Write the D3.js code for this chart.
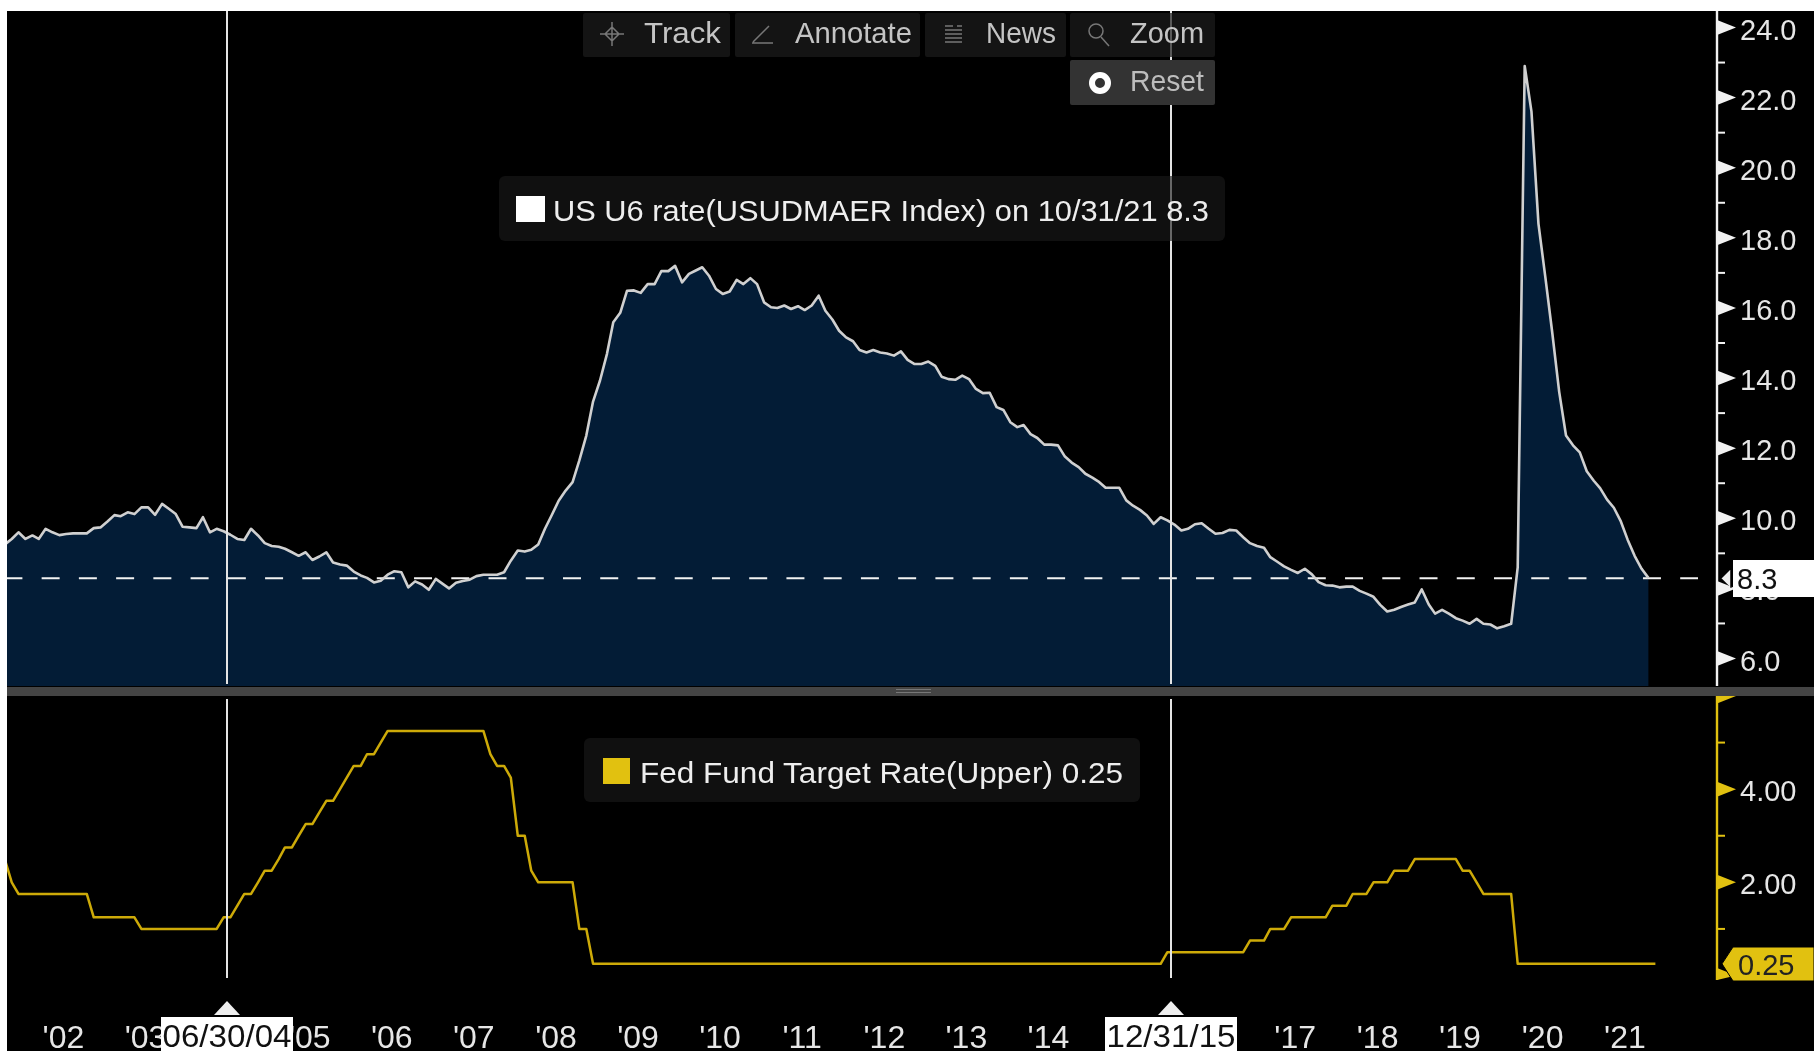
<!DOCTYPE html>
<html>
<head>
<meta charset="utf-8">
<script src="https://cdn.jsdelivr.net/npm/d3@7"></script>
<style>
  html, body { margin: 0; padding: 0; background: #fff; overflow: hidden; }
  svg { display: block; filter: blur(0.45px); }
  text { font-family: "Liberation Sans", sans-serif; }
</style>
</head>
<body>
<div id="chart"></div>
<script>
// monthly values, first point is Oct 2001
var u6Values = [
  9.25, 9.41, 9.60,
  9.41, 9.51, 9.41, 9.70, 9.60, 9.52, 9.55, 9.57, 9.57, 9.57, 9.72, 9.74,
  9.91, 10.09, 10.06, 10.17, 10.12, 10.31, 10.31, 10.10, 10.41, 10.27, 10.12, 9.76,
  9.74, 9.72, 10.03, 9.60, 9.70, 9.63, 9.53, 9.41, 9.38, 9.70, 9.51, 9.29,
  9.21, 9.19, 9.13, 9.03, 8.93, 9.03, 8.81, 8.91, 9.03, 8.74, 8.68, 8.65,
  8.48, 8.37, 8.30, 8.17, 8.22, 8.39, 8.49, 8.46, 8.03, 8.20, 8.11, 7.96,
  8.27, 8.13, 8.00, 8.16, 8.21, 8.25, 8.35, 8.39, 8.39, 8.39, 8.46, 8.79,
  9.08, 9.05, 9.10, 9.25, 9.70, 10.10, 10.50, 10.79, 11.03, 11.65, 12.36, 13.33,
  13.93, 14.69, 15.59, 15.86, 16.49, 16.50, 16.43, 16.68, 16.68, 17.05, 17.05, 17.20,
  16.73, 16.97, 17.06, 17.16, 16.92, 16.54, 16.40, 16.47, 16.80, 16.68, 16.85, 16.68,
  16.16, 16.02, 16.00, 16.07, 15.97, 16.05, 15.94, 16.07, 16.35, 15.92, 15.67, 15.35,
  15.16, 15.05, 14.80, 14.73, 14.80, 14.73, 14.70, 14.64, 14.76, 14.52, 14.40, 14.40,
  14.47, 14.35, 14.04, 13.97, 13.95, 14.07, 13.97, 13.69, 13.57, 13.58, 13.17, 13.09,
  12.74, 12.60, 12.66, 12.40, 12.29, 12.10, 12.10, 12.08, 11.76, 11.59, 11.46, 11.27,
  11.16, 11.03, 10.87, 10.87, 10.87, 10.51, 10.36, 10.24, 10.08, 9.84, 10.03, 9.94,
  9.82, 9.65, 9.70, 9.83, 9.86, 9.70, 9.56, 9.58, 9.67, 9.65, 9.46, 9.29,
  9.21, 9.16, 8.89, 8.76, 8.63, 8.53, 8.44, 8.56, 8.40, 8.18, 8.09, 8.08,
  8.03, 8.05, 8.05, 7.93, 7.85, 7.76, 7.53, 7.34, 7.39, 7.47, 7.54, 7.60,
  7.97, 7.54, 7.28, 7.39, 7.28, 7.15, 7.08, 6.99, 7.13, 6.99, 6.97, 6.86,
  6.92, 6.99, 8.60, 22.90, 21.60, 18.40, 16.90, 15.30, 13.60, 12.36, 12.08, 11.88,
  11.34, 11.07, 10.86, 10.53, 10.30, 9.91, 9.39, 8.93, 8.56, 8.30
];

var fedValues = [
  2.5, 2, 1.75,
  1.75, 1.75, 1.75, 1.75, 1.75, 1.75, 1.75, 1.75, 1.75, 1.75, 1.25, 1.25,
  1.25, 1.25, 1.25, 1.25, 1.25, 1, 1, 1, 1, 1, 1, 1,
  1, 1, 1, 1, 1, 1.25, 1.25, 1.5, 1.75, 1.75, 2, 2.25,
  2.25, 2.5, 2.75, 2.75, 3, 3.25, 3.25, 3.5, 3.75, 3.75, 4, 4.25,
  4.5, 4.5, 4.75, 4.75, 5, 5.25, 5.25, 5.25, 5.25, 5.25, 5.25, 5.25,
  5.25, 5.25, 5.25, 5.25, 5.25, 5.25, 5.25, 5.25, 4.75, 4.5, 4.5, 4.25,
  3, 3, 2.25, 2, 2, 2, 2, 2, 2, 1, 1, 0.25,
  0.25, 0.25, 0.25, 0.25, 0.25, 0.25, 0.25, 0.25, 0.25, 0.25, 0.25, 0.25,
  0.25, 0.25, 0.25, 0.25, 0.25, 0.25, 0.25, 0.25, 0.25, 0.25, 0.25, 0.25,
  0.25, 0.25, 0.25, 0.25, 0.25, 0.25, 0.25, 0.25, 0.25, 0.25, 0.25, 0.25,
  0.25, 0.25, 0.25, 0.25, 0.25, 0.25, 0.25, 0.25, 0.25, 0.25, 0.25, 0.25,
  0.25, 0.25, 0.25, 0.25, 0.25, 0.25, 0.25, 0.25, 0.25, 0.25, 0.25, 0.25,
  0.25, 0.25, 0.25, 0.25, 0.25, 0.25, 0.25, 0.25, 0.25, 0.25, 0.25, 0.25,
  0.25, 0.25, 0.25, 0.25, 0.25, 0.25, 0.25, 0.25, 0.25, 0.25, 0.25, 0.5,
  0.5, 0.5, 0.5, 0.5, 0.5, 0.5, 0.5, 0.5, 0.5, 0.5, 0.5, 0.75,
  0.75, 0.75, 1, 1, 1, 1.25, 1.25, 1.25, 1.25, 1.25, 1.25, 1.5,
  1.5, 1.5, 1.75, 1.75, 1.75, 2, 2, 2, 2.25, 2.25, 2.25, 2.5,
  2.5, 2.5, 2.5, 2.5, 2.5, 2.5, 2.25, 2.25, 2, 1.75, 1.75, 1.75,
  1.75, 1.75, 0.25, 0.25, 0.25, 0.25, 0.25, 0.25, 0.25, 0.25, 0.25, 0.25,
  0.25, 0.25, 0.25, 0.25, 0.25, 0.25, 0.25, 0.25, 0.25, 0.25, 0.25
];

var years = [2002, 2003, 2004, 2005, 2006, 2007, 2008, 2009, 2010, 2011, 2012, 2013, 2014, 2015, 2016, 2017, 2018, 2019, 2020, 2021];
var u6Major = [6, 8, 10, 12, 14, 16, 18, 20, 22, 24];
var u6Minor = [7, 9, 11, 13, 15, 17, 19, 21, 23];
var fedMajor = [0, 2, 4, 6];
var fedLabelled = [2, 4];
var fedMinor = [1, 3, 5];
var cursorDates = [new Date(2004, 5, 30), new Date(2015, 11, 31)];
var cursorLabels = ["06/30/04", "12/31/15"];
var lastDate = new Date(2021, 9, 31);
var u6Last = 8.3;
var fedLast = 0.25;

// mid month so the points sit between the month end cursors
function monthDate(d, i) { return new Date(2001, 9 + i, 15); }

var width = 1814, height = 1051;
var left = 7, top_ = 11, axisX = 1717;
var WHITE = "#e6e6e6", AREA = "#031c36", YELLOW = "#e1c110", FEDLINE = "#cdaa08";

var svg = d3.select("#chart").append("svg").attr("width", width).attr("height", height);

svg.append("rect").attr("x", left).attr("y", top_).attr("width", width - left).attr("height", height - top_).attr("fill", "#000");

var x = d3.scaleTime().domain([cursorDates[0], cursorDates[1], lastDate]).range([227, 1171, 1652]);
var yU6 = d3.scaleLinear().domain([6, 24]).range([658.5, 27.5]);
var yFed = d3.scaleLinear().domain([0, 6]).range([975.5, 696]);

var defs = svg.append("defs");
defs.append("clipPath").attr("id", "clip-top").append("rect")
  .attr("x", left).attr("y", top_).attr("width", axisX - left).attr("height", 686 - top_);
defs.append("clipPath").attr("id", "clip-bottom").append("rect")
  .attr("x", left).attr("y", 697).attr("width", axisX - left).attr("height", 283);

// top panel
var topPanel = svg.append("g").attr("clip-path", "url(#clip-top)");

topPanel.append("path")
  .datum(u6Values)
  .attr("fill", AREA)
  .attr("d", d3.area().x(function(d, i) { return x(monthDate(d, i)); }).y0(686).y1(function(d) { return yU6(d); }));

topPanel.append("line")
  .attr("x1", left).attr("x2", 1698)
  .attr("y1", yU6(u6Last) + 0.5).attr("y2", yU6(u6Last) + 0.5)
  .attr("stroke", "#f2f2f2").attr("stroke-width", 2)
  .attr("stroke-dasharray", "18 19.24").attr("stroke-dashoffset", 2.6);

topPanel.append("path")
  .datum(u6Values)
  .attr("fill", "none").attr("stroke", "#d0d0d0").attr("stroke-width", 2.6).attr("stroke-linejoin", "round")
  .attr("d", d3.line().x(function(d, i) { return x(monthDate(d, i)); }).y(function(d) { return yU6(d); }));

// bottom panel
var bottomPanel = svg.append("g").attr("clip-path", "url(#clip-bottom)");

bottomPanel.append("path")
  .datum(fedValues)
  .attr("fill", "none").attr("stroke", FEDLINE).attr("stroke-width", 2.5).attr("stroke-linejoin", "round")
  .attr("d", d3.line().x(function(d, i) { return x(monthDate(d, i)); }).y(function(d) { return yFed(d); }));

// separator between the panels
svg.append("rect").attr("x", left).attr("y", 687).attr("width", width - left).attr("height", 9).attr("fill", "#444");
svg.selectAll(".grip").data([689.5, 692.5]).enter().append("line")
  .attr("x1", 896).attr("x2", 931).attr("y1", function(d) { return d; }).attr("y2", function(d) { return d; })
  .attr("stroke", "#777").attr("stroke-width", 1);

// cursor lines
cursorDates.forEach(function(d) {
  var cx = x(d);
  svg.append("line").attr("x1", cx).attr("x2", cx).attr("y1", top_).attr("y2", 684)
    .attr("stroke", "#e4e4e4").attr("stroke-width", 2);
  svg.append("line").attr("x1", cx).attr("x2", cx).attr("y1", 699).attr("y2", 978)
    .attr("stroke", "#e4e4e4").attr("stroke-width", 2);
});

// x axis
var xAxis = d3.axisBottom(x)
  .tickValues(years.map(function(y) { return new Date(y, 6, 1); }))
  .tickFormat(function(d) { return "'" + d3.timeFormat("%y")(d); })
  .tickSize(0).tickPadding(0);
var xG = svg.append("g").attr("transform", "translate(0,1048)").call(xAxis);
xG.select(".domain").remove();
xG.selectAll("text").attr("y", 0).attr("dy", 0).attr("font-size", 32).attr("fill", WHITE)
  .style("font-family", '"Liberation Sans", sans-serif');

// cursor date flags
cursorDates.forEach(function(d, i) {
  var cx = x(d);
  svg.append("path")
    .attr("d", d3.line()([[cx, 1001], [cx + 13, 1015], [cx - 13, 1015]]))
    .attr("fill", "#eee");
  svg.append("rect").attr("x", cx - 66).attr("y", 1017).attr("width", 132).attr("height", 34).attr("fill", "#fff");
  svg.append("text").attr("x", cx - 64.5).attr("y", 1047).attr("font-size", 32).attr("fill", "#111")
    .attr("textLength", 129).attr("lengthAdjust", "spacingAndGlyphs").text(cursorLabels[i]);
});

// right axes
function drawAxis(scale, major, minor, labelled, color, format, y0, y1, textColor) {
  var axis = d3.axisRight(scale).tickValues(labelled).tickFormat(format).tickSize(0).tickPadding(0);
  var g = svg.append("g").attr("transform", "translate(" + axisX + ",0)").call(axis);
  g.select(".domain").remove();
  g.selectAll("text").attr("x", 23).attr("dy", 11.5).attr("font-size", 29).attr("fill", textColor)
    .style("font-family", '"Liberation Sans", sans-serif');
  g.append("line").attr("x1", 0).attr("x2", 0).attr("y1", y0).attr("y2", y1).attr("stroke", color).attr("stroke-width", 2.4);
  g.selectAll(".minor").data(minor).enter().append("line").attr("class", "minor")
    .attr("x1", 0).attr("x2", 8)
    .attr("y1", function(d) { return scale(d); }).attr("y2", function(d) { return scale(d); })
    .attr("stroke", color).attr("stroke-width", 2);
  g.selectAll(".major").data(major).enter().append("path").attr("class", "major")
    .attr("fill", color)
    .attr("d", function(d) {
      var v = scale(d);
      return d3.line()([[0, Math.max(v - 7.5, y0)], [19, Math.max(v, y0)], [0, Math.min(v + 7.5, y1)]]);
    });
}

drawAxis(yU6, u6Major, u6Minor, u6Major, "#f2f2f2", d3.format(".1f"), top_, 686, WHITE);
drawAxis(yFed, fedMajor, fedMinor, fedLabelled, YELLOW, d3.format(".2f"), 696, 980, WHITE);

// last value tags
var tagU6 = yU6(u6Last);
svg.append("path").attr("d", d3.line()([[1721, tagU6], [1731, tagU6 - 10], [1731, tagU6 + 10]]))
  .attr("fill", "#eee").attr("stroke", "#000").attr("stroke-width", 1.5);
svg.append("rect").attr("x", 1733).attr("y", 560).attr("width", width - 1733).attr("height", 37).attr("fill", "#fff");
svg.append("text").attr("x", 1737).attr("y", tagU6 + 11.5).attr("font-size", 29).attr("fill", "#111").text(d3.format(".1f")(u6Last));

var tagFed = yFed(fedLast);
svg.append("path")
  .attr("d", d3.line()([[1722, tagFed], [1733, 947], [width, 947], [width, 981], [1733, 981]]) + "Z")
  .attr("fill", YELLOW).attr("stroke", "#000").attr("stroke-width", 1);
svg.append("text").attr("x", 1738).attr("y", tagFed + 11.5).attr("font-size", 29).attr("fill", "#222").text(d3.format(".2f")(fedLast));

// legends
function legend(x0, x1, y0, y1, swatch, color, label, textX, textLen, baseline) {
  svg.append("rect").attr("x", x0).attr("y", y0).attr("width", x1 - x0).attr("height", y1 - y0).attr("rx", 6)
    .attr("fill", "#1a1a1a").attr("opacity", 0.62);
  svg.append("rect").attr("x", swatch[0]).attr("y", swatch[1]).attr("width", swatch[2]).attr("height", swatch[3]).attr("fill", color);
  svg.append("text").attr("x", textX).attr("y", baseline).attr("font-size", 29).attr("fill", "#eee")
    .attr("textLength", textLen).attr("lengthAdjust", "spacingAndGlyphs").text(label);
}
legend(499, 1225, 176, 241, [516, 196, 29, 26], "#fff", "US U6 rate(USUDMAER Index) on 10/31/21 8.3", 553, 656, 220.5);
legend(584, 1140, 738, 802, [603, 758, 27, 26], YELLOW, "Fed Fund Target Rate(Upper) 0.25", 640, 483, 782.5);

// toolbar
var toolbar = [
  { label: "Track", x0: 583, x1: 730, tx: 644, len: 77 },
  { label: "Annotate", x0: 735, x1: 920, tx: 795, len: 117 },
  { label: "News", x0: 925, x1: 1066, tx: 986, len: 70 },
  { label: "Zoom", x0: 1070, x1: 1215, tx: 1130, len: 74 }
];
toolbar.forEach(function(b) {
  svg.append("rect").attr("x", b.x0).attr("y", 13).attr("width", b.x1 - b.x0).attr("height", 44).attr("rx", 2)
    .attr("fill", "#1c1c1c").attr("opacity", 0.7);
  svg.append("text").attr("x", b.tx).attr("y", 43).attr("font-size", 29).attr("fill", "#c4c4c4")
    .attr("textLength", b.len).attr("lengthAdjust", "spacingAndGlyphs").text(b.label);
});
svg.append("rect").attr("x", 1070).attr("y", 60).attr("width", 145).attr("height", 45).attr("rx", 2).attr("fill", "#333");
svg.append("text").attr("x", 1130).attr("y", 91).attr("font-size", 29).attr("fill", "#bdbdbd")
  .attr("textLength", 74).attr("lengthAdjust", "spacingAndGlyphs").text("Reset");
svg.append("circle").attr("cx", 1100).attr("cy", 83).attr("r", 8).attr("fill", "none").attr("stroke", "#fff").attr("stroke-width", 6);

// toolbar icons
var icons = svg.append("g").attr("fill", "none").attr("stroke", "#777").attr("stroke-width", 1.5);
icons.append("path").attr("d", "M612 22 V46 M600 34 H624 M612 27 L619 34 L612 41 L605 34 Z");
icons.append("path").attr("d", "M753 42 L769 26 M752 43 H773");
icons.append("path").attr("d", "M945 26 H953 M957 26 H962 M945 30 H962 M945 34 H962 M945 38 H962 M945 42 H962");
icons.append("circle").attr("cx", 1096).attr("cy", 31).attr("r", 7);
icons.append("path").attr("d", "M1101 37 L1109 46");
</script>
</body>
</html>
